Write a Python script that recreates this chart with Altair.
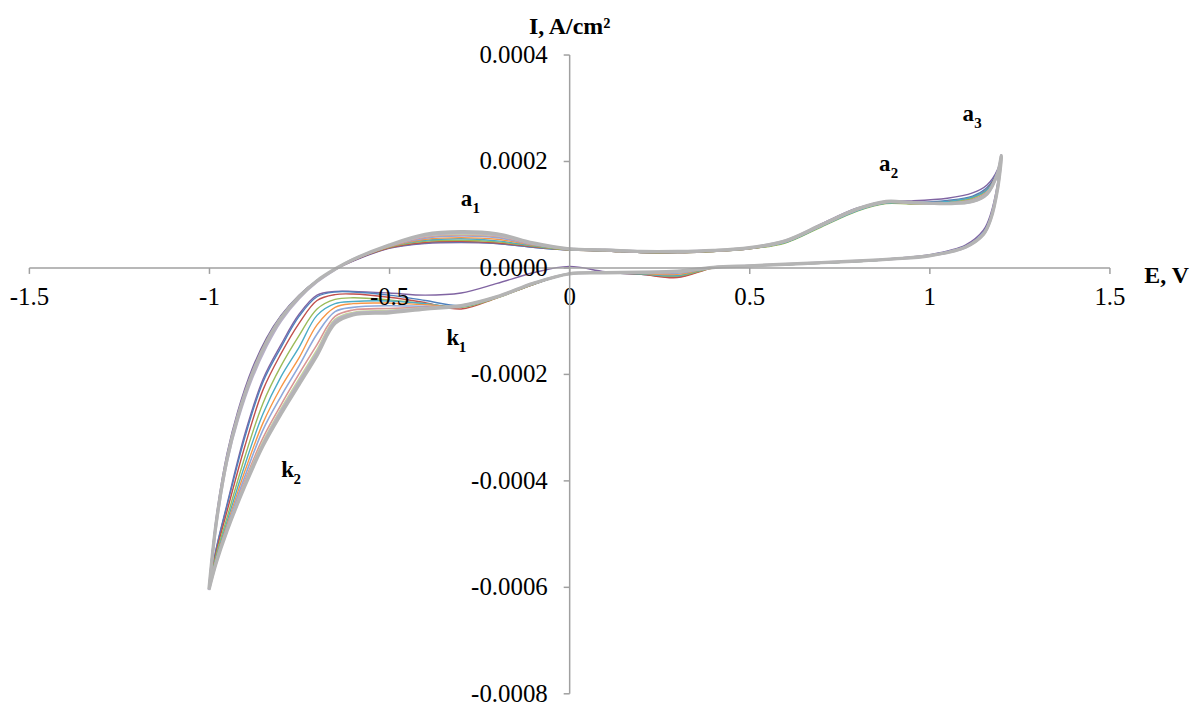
import altair as alt
import pandas as pd

# Potential sweep (V): forward scan -1.0 -> 1.2, then reverse scan 1.2 -> -1.0
E_SWEEP = [-1.00, -0.98, -0.95, -0.92, -0.88, -0.84, -0.80, -0.75, -0.70, -0.65,
           -0.60, -0.50, -0.40, -0.30, -0.20, -0.10, 0.00, 0.10, 0.20, 0.30,
           0.40, 0.50, 0.60, 0.70, 0.80, 0.88, 0.95, 1.05, 1.12, 1.16,
           1.19, 1.20,
           1.19, 1.17, 1.15, 1.10, 1.00, 0.90, 0.80, 0.70, 0.60, 0.50,
           0.40, 0.30, 0.20, 0.10, 0.00, -0.10, -0.20, -0.30, -0.40, -0.50,
           -0.60, -0.65, -0.70, -0.75, -0.80, -0.85, -0.90, -0.95, -0.98, -1.00]

# Currents in uA/cm2 for each cycle
CYCLE_01 = [-600, -470, -350, -270, -190, -132, -90, -52, -24, -4,
            12, 36, 45, 47, 45, 38, 33, 31, 28, 28,
            31, 36, 49, 82, 112, 124, 125, 130, 140, 155, 185, 212,
            160, 100, 70, 42, 24, 17, 12, 9, 6, 3,
            0, -18, -12, -8, 2, -10, -30, -48, -52, -48,
            -45, -45, -52, -88, -145, -210, -312, -445, -528, -600]
CYCLE_02 = [-602, -475, -355, -275, -195, -135, -92, -53, -24, -3,
            13, 37, 46, 48, 45, 38, 33, 31, 28, 28,
            30, 35, 47, 78, 108, 122, 122, 126, 134, 150, 182, 211,
            155, 95, 66, 40, 23, 16, 12, 9, 6, 3,
            0, -17, -13, -10, -12, -32, -56, -72, -62, -52,
            -46, -46, -55, -92, -150, -215, -318, -448, -530, -602]
CYCLE_03 = [-603, -476, -356, -276, -196, -136, -93, -54, -25, -4,
            13, 37, 47, 49, 46, 39, 33, 31, 28, 28,
            30, 35, 47, 78, 108, 121, 120, 124, 132, 147, 180, 210,
            153, 93, 64, 39, 22, 16, 11, 8, 5, 3,
            -1, -19, -13, -10, -12, -32, -57, -78, -66, -56,
            -50, -51, -62, -105, -162, -230, -335, -458, -535, -603]
CYCLE_04 = [-602, -477, -357, -277, -197, -137, -93, -54, -25, -3,
            14, 38, 49, 51, 48, 40, 33, 31, 28, 28,
            30, 35, 46, 76, 106, 120, 119, 122, 130, 145, 178, 209,
            152, 92, 64, 39, 22, 16, 11, 8, 5, 3,
            -1, -16, -12, -10, -12, -32, -57, -75, -68, -61,
            -57, -60, -78, -128, -185, -255, -355, -470, -540, -602]
CYCLE_05 = [-603, -478, -358, -278, -198, -138, -94, -55, -25, -3,
            14, 39, 51, 54, 50, 41, 34, 32, 29, 29,
            31, 36, 47, 77, 107, 121, 120, 124, 132, 146, 179, 210,
            152, 92, 63, 38, 22, 16, 11, 8, 5, 3,
            0, -15, -12, -10, -12, -31, -56, -74, -68, -63,
            -64, -68, -90, -150, -205, -275, -370, -478, -545, -603]
CYCLE_06 = [-604, -478, -358, -278, -198, -138, -94, -55, -25, -3,
            14, 39, 53, 56, 53, 42, 34, 32, 29, 29,
            31, 36, 48, 78, 108, 122, 120, 121, 128, 142, 177, 209,
            151, 91, 63, 38, 22, 16, 12, 9, 6, 3,
            0, -13, -11, -10, -12, -31, -56, -73, -70, -67,
            -68, -75, -108, -170, -225, -292, -382, -484, -548, -604]
CYCLE_07 = [-604, -479, -359, -279, -199, -139, -95, -55, -25, -3,
            15, 40, 55, 59, 56, 43, 34, 32, 29, 29,
            31, 36, 48, 78, 108, 122, 121, 121, 127, 141, 177, 209,
            151, 91, 62, 38, 22, 16, 12, 9, 6, 3,
            0, -11, -10, -10, -12, -30, -55, -73, -73, -72,
            -75, -83, -125, -185, -242, -305, -392, -488, -550, -604]
CYCLE_08 = [-605, -479, -359, -279, -199, -139, -95, -55, -25, -3,
            15, 40, 57, 61, 58, 44, 35, 32, 29, 29,
            31, 36, 49, 79, 109, 123, 121, 120, 126, 140, 177, 210,
            150, 90, 62, 38, 22, 16, 12, 9, 6, 3,
            0, -9, -10, -10, -12, -30, -55, -72, -75, -77,
            -80, -92, -145, -200, -258, -320, -400, -492, -552, -605]
CYCLE_09 = [-606, -481, -362, -283, -204, -144, -98, -57, -26, -3,
            15, 41, 59, 63, 60, 45, 35, 33, 30, 30,
            32, 37, 49, 79, 109, 123, 121, 120, 125, 139, 178, 210,
            150, 90, 62, 38, 22, 16, 12, 9, 6, 3,
            0, -8, -9, -10, -12, -30, -55, -72, -76, -81,
            -85, -98, -155, -210, -266, -328, -405, -494, -554, -605]
CYCLE_10 = [-606, -483, -364, -286, -207, -147, -100, -58, -27, -4,
            15, 41, 60, 65, 61, 45, 35, 33, 30, 30,
            32, 37, 50, 80, 110, 124, 122, 120, 124, 138, 178, 210,
            150, 90, 62, 38, 22, 16, 12, 9, 6, 3,
            0, -7, -9, -10, -12, -30, -55, -72, -77, -83,
            -87, -101, -160, -215, -270, -332, -408, -494, -554, -605]
CYCLE_11 = [-605, -480, -360, -280, -200, -140, -95, -55, -25, -3,
            15, 42, 62, 67, 63, 46, 35, 33, 30, 30,
            32, 37, 50, 80, 110, 124, 122, 120, 124, 138, 178, 210,
            150, 90, 62, 38, 22, 16, 12, 9, 6, 3,
            0, -7, -9, -10, -12, -30, -55, -72, -78, -85,
            -89, -105, -165, -220, -275, -335, -410, -495, -555, -605]

CYCLES = [CYCLE_01, CYCLE_02, CYCLE_03, CYCLE_04, CYCLE_05, CYCLE_06,
          CYCLE_07, CYCLE_08, CYCLE_09, CYCLE_10, CYCLE_11]
COLORS = ["#8064A2", "#4F81BD", "#C0504D", "#9BBB59", "#4BACC6", "#F79646",
          "#8EA9DB", "#D99694", "#C3D69B", "#B8B0C8", "#B4B4B4"]
WIDTHS = [1.4, 1.4, 1.4, 1.4, 1.4, 1.4, 1.6, 1.6, 2.0, 2.6, 3.4]

X_TICKS = [-1.5, -1.0, -0.5, 0.0, 0.5, 1.0, 1.5]
Y_TICKS = [-0.0008, -0.0006, -0.0004, -0.0002, 0.0, 0.0002, 0.0004]

LABEL_MAIN = ["a", "a", "a", "k", "k"]
LABEL_SUB = ["1", "2", "3", "1", "2"]
LABEL_E = [-0.285, 0.876, 1.108, -0.323, -0.782]
LABEL_I = [0.000116, 0.000181, 0.000275, -0.000146, -0.000393]

UA = 1e-6  # uA/cm2 -> A/cm2

W, H = 1086, 642
AXIS_GREY = "#a0a0a0"
FONT = "Liberation Serif"

x_axis = alt.Axis(
    values=X_TICKS, offset=-428, grid=False, tickSize=6, tickWidth=1.5,
    tickColor=AXIS_GREY, domainColor=AXIS_GREY, domainWidth=1.5,
    labelFont=FONT, labelFontSize=25, labelColor="#000000", labelPadding=11,
    labelFlush=False, labelOverlap=False, labelBound=False,
    labelExpr="replace(format(datum.value, '~g'), '\u2212', '-')",
    title="E, V", titleFont=FONT, titleFontSize=24, titleFontWeight="bold",
    titleColor="#000000", titleX=1143, titleY=8, titleAlign="center",
    titleBaseline="middle", titleAngle=0, zindex=1,
)
y_axis = alt.Axis(
    values=Y_TICKS, offset=-543, grid=False, tickSize=6, tickWidth=1.5,
    tickColor=AXIS_GREY, domainColor=AXIS_GREY, domainWidth=1.5,
    labelFont=FONT, labelFontSize=25, labelColor="#000000", labelPadding=16,
    labelFlush=False, labelOverlap=False, labelBound=False,
    labelExpr="replace(format(datum.value, '.4f'), '\u2212', '-')",
    title="I, A/cm\u00b2", titleFont=FONT, titleFontSize=24, titleFontWeight="bold",
    titleColor="#000000", titleX=0, titleY=-28, titleAlign="center",
    titleBaseline="middle", titleAngle=0, zindex=1,
)

X = alt.X("E:Q", scale=alt.Scale(domain=[-1.5, 1.5], nice=False, zero=False), axis=x_axis)
Y = alt.Y("I:Q", scale=alt.Scale(domain=[-0.0008, 0.0004], nice=False, zero=False), axis=y_axis)

layers = []
for k, (vals, col, wid) in enumerate(zip(CYCLES, COLORS, WIDTHS)):
    df = pd.DataFrame({
        "E": E_SWEEP,
        "I": [v * UA for v in vals],
        "idx": list(range(len(E_SWEEP))),
        "cycle": f"cycle {k + 1}",
    })
    layers.append(
        alt.Chart(df).mark_line(color=col, strokeWidth=wid, interpolate="catmull-rom")
        .encode(x=X, y=Y, order="idx:Q")
    )

lab = pd.DataFrame({"E": LABEL_E, "I": LABEL_I, "main": LABEL_MAIN, "sub": LABEL_SUB})
main_txt = alt.Chart(lab).mark_text(
    font=FONT, fontSize=23, fontWeight="bold", align="center",
    baseline="alphabetic", color="#000000"
).encode(x=X, y=Y, text="main:N")
sub_txt = alt.Chart(lab).mark_text(
    font=FONT, fontSize=15, fontWeight="bold", align="left",
    baseline="alphabetic", color="#000000", dx=6, dy=7
).encode(x=X, y=Y, text="sub:N")

chart = alt.layer(*layers, main_txt, sub_txt).properties(
    width=W, height=H,
    autosize=alt.AutoSizeParams(type="none"),
    padding={"left": 21, "top": 45, "right": 86, "bottom": 10},
).configure_view(stroke=None)

chart.save("out.html", embed_options={"renderer": "svg", "actions": False})
